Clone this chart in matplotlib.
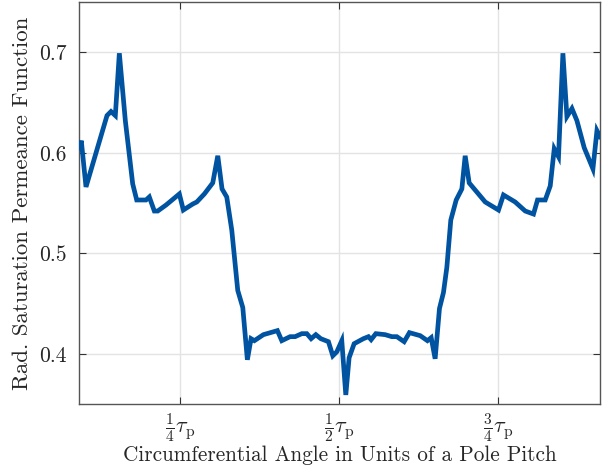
import matplotlib
matplotlib.use("Agg")
import matplotlib.pyplot as plt

plt.rcParams['font.family'] = 'serif'
plt.rcParams['font.serif'] = ['cmr10', 'DejaVu Serif']
plt.rcParams['mathtext.fontset'] = 'cm'
plt.rcParams['axes.unicode_minus'] = False

# Data (x in units of a pole pitch)
angle = [0.0912, 0.0948, 0.1022, 0.1352, 0.1415, 0.1483, 0.1546, 0.1640, 0.1756,
         0.1819, 0.1965, 0.2017, 0.2096, 0.2149, 0.2280, 0.2489, 0.2552, 0.2700,
         0.2763, 0.2882, 0.3014, 0.3093, 0.3160, 0.3234, 0.3313, 0.3407, 0.3486,
         0.3558, 0.3616, 0.3668, 0.3810, 0.4030, 0.4099, 0.4230, 0.4308, 0.4414,
         0.4492, 0.4560, 0.4634, 0.4712, 0.4832, 0.4901, 0.4964, 0.5042, 0.5105,
         0.5157, 0.5236, 0.5382, 0.5461, 0.5503, 0.5577, 0.5723, 0.5829, 0.5907,
         0.6022, 0.6105, 0.6274, 0.6388, 0.6447, 0.6509, 0.6577, 0.6640, 0.6693,
         0.6755, 0.6840, 0.6929, 0.6981, 0.7044, 0.7296, 0.7505, 0.7583, 0.7767,
         0.7925, 0.8055, 0.8118, 0.8239, 0.8318, 0.8381, 0.8448, 0.8517, 0.8580,
         0.8659, 0.8737, 0.8852, 0.8989, 0.9052, 0.9100]
permeance = [0.605, 0.612, 0.566, 0.637, 0.641, 0.637, 0.699, 0.632, 0.569,
             0.553, 0.553, 0.556, 0.542, 0.542, 0.548, 0.559, 0.543, 0.549,
             0.551, 0.559, 0.570, 0.597, 0.564, 0.556, 0.523, 0.463, 0.446,
             0.394, 0.415, 0.413, 0.419, 0.423, 0.413, 0.417, 0.417, 0.420,
             0.420, 0.415, 0.419, 0.415, 0.412, 0.398, 0.402, 0.413, 0.359,
             0.396, 0.410, 0.415, 0.417, 0.414, 0.420, 0.419, 0.417, 0.417,
             0.412, 0.421, 0.418, 0.413, 0.416, 0.395, 0.445, 0.461, 0.486,
             0.533, 0.553, 0.564, 0.597, 0.570, 0.551, 0.543, 0.558, 0.551,
             0.542, 0.539, 0.553, 0.553, 0.567, 0.604, 0.596, 0.699, 0.636,
             0.644, 0.632, 0.605, 0.584, 0.622, 0.616]

xticks = [0.25, 0.5, 0.75]
xticklabels = [r'$\frac{1}{4}\tau_\mathrm{p}$', r'$\frac{1}{2}\tau_\mathrm{p}$',
               r'$\frac{3}{4}\tau_\mathrm{p}$']
yticks = [0.4, 0.5, 0.6, 0.7]
yticklabels = ['0.4', '0.5', '0.6', '0.7']

fig = plt.figure(figsize=(6.03, 4.69), dpi=100)
ax = fig.add_axes([79/603, 65/469, 521/603, 402/469])

ax.plot(angle, permeance, color='#0053a0', linewidth=3.4, solid_joinstyle='miter',
        zorder=3)

ax.set_xlim(0.0912, 0.910)
ax.set_ylim(0.35, 0.75)
ax.set_xticks(xticks)
ax.set_xticklabels(xticklabels, fontsize=16)
ax.set_yticks(yticks)
ax.set_yticklabels(yticklabels, fontsize=15.5)

ax.grid(True, color='#e3e3e3', linewidth=1.0)
ax.set_axisbelow(True)
for s in ax.spines.values():
    s.set_color('#555555')
    s.set_linewidth(1.0)
ax.tick_params(direction='in', length=5, width=0.8, color='#333333',
               top=True, right=True, labelcolor='#262626', pad=5)
ax.tick_params(axis='y', pad=9)

ax.set_xlabel('Circumferential Angle in Units of a Pole Pitch', fontsize=15.3,
              color='#262626', labelpad=1)
ax.set_ylabel('Rad. Saturation Permeance Function', fontsize=16.5,
              color='#262626', labelpad=5)

fig.savefig('out.png', dpi=100)
